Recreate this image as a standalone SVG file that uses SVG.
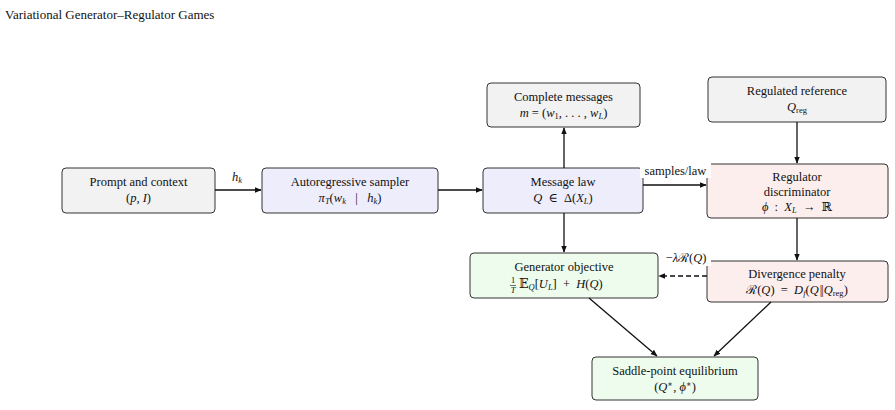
<svg xmlns="http://www.w3.org/2000/svg" width="895" height="410" viewBox="0 0 895 410">
<style>
.box{stroke:#333;stroke-width:1;rx:4;ry:4}
.gray{fill:#f2f2f2}.blue{fill:#ededfc}.pink{fill:#fdeeee}.green{fill:#edfced}
text{font-family:"Liberation Serif","DejaVu Serif",serif;font-size:12.5px;fill:#111;text-anchor:middle}
.m{font-style:italic}
.sub{font-size:8.5px}
.st{text-anchor:start}
.ln{stroke:#111;stroke-width:1.3;fill:none}
.title{text-anchor:start;font-size:13px}
</style>
<defs>
<marker id="ah" viewBox="0 0 10 10" refX="9" refY="5" markerWidth="7" markerHeight="7" markerUnits="userSpaceOnUse" orient="auto">
<path d="M0,1 L10,5 L0,9 z" fill="#111"/>
</marker>
</defs>
<rect width="895" height="410" fill="#fff"/>
<text class="title" x="5" y="19">Variational Generator–Regulator Games</text>

<g id="prompt"><rect class="box gray" x="62" y="168" width="153" height="45"/>
<text x="138.5" y="186">Prompt and context</text>
<text x="138.5" y="202">(<tspan class="m">p</tspan>, <tspan class="m">I</tspan>)</text></g>

<g id="sampler"><rect class="box blue" x="262" y="168" width="176" height="45"/>
<text x="350" y="186">Autoregressive sampler</text>
<text x="350" y="202"><tspan class="m">π</tspan><tspan class="sub m" dy="2">T</tspan><tspan dy="-2">(</tspan><tspan class="m">w</tspan><tspan class="sub m" dy="2">k</tspan><tspan dy="-2" xml:space="preserve">   |   </tspan><tspan class="m">h</tspan><tspan class="sub m" dy="2">k</tspan><tspan dy="-2">)</tspan></text></g>

<g id="msglaw"><rect class="box blue" x="483" y="168" width="160" height="45"/>
<text x="563" y="186">Message law</text>
<text x="563" y="202" xml:space="preserve"><tspan class="m">Q</tspan>  ∈  Δ(<tspan class="m">X</tspan><tspan class="sub m" dy="2">L</tspan><tspan dy="-2">)</tspan></text></g>

<g id="complete"><rect class="box gray" x="487" y="83" width="153" height="44"/>
<text x="563.5" y="101">Complete messages</text>
<text x="563.5" y="117"><tspan class="m">m</tspan> = (<tspan class="m">w</tspan><tspan class="sub" dy="2">1</tspan><tspan dy="-2">, . . . , </tspan><tspan class="m">w</tspan><tspan class="sub m" dy="2">L</tspan><tspan dy="-2">)</tspan></text></g>

<g id="reference"><rect class="box gray" x="708" y="77" width="178" height="45"/>
<text x="797" y="95">Regulated reference</text>
<text x="797" y="111"><tspan class="m">Q</tspan><tspan class="sub" dy="2">reg</tspan></text></g>

<g id="regulator"><rect class="box pink" x="707" y="164" width="181" height="54"/>
<text x="797" y="181">Regulator</text>
<text x="797" y="196">discriminator</text>
<text x="797" y="211" xml:space="preserve"><tspan class="m">ϕ</tspan>  :  <tspan class="m">X</tspan><tspan class="sub m" dy="2">L</tspan><tspan dy="-2">  →  ℝ</tspan></text></g>

<g id="generator"><rect class="box green" x="470" y="253" width="188" height="45"/>
<text x="564" y="271">Generator objective</text>
<text x="513" y="283" class="sub">1</text>
<text x="513" y="293" class="sub m">T</text>
<line x1="510" y1="285.5" x2="516" y2="285.5" stroke="#111" stroke-width="0.6"/>
<text x="519" y="288" class="st" xml:space="preserve">𝔼<tspan class="sub m" dy="2">Q</tspan><tspan dy="-2">[</tspan><tspan class="m">U</tspan><tspan class="sub m" dy="2">L</tspan><tspan dy="-2">]  +  </tspan><tspan class="m">H</tspan>(<tspan class="m">Q</tspan>)</text></g>

<g id="divergence"><rect class="box pink" x="707" y="261" width="181" height="41"/>
<text x="797" y="278">Divergence penalty</text>
<text x="797" y="294" xml:space="preserve">ℛ(<tspan class="m">Q</tspan>)  =  <tspan class="m">D</tspan><tspan class="sub m" dy="2">f</tspan><tspan dy="-2">(</tspan><tspan class="m">Q</tspan><tspan dx="1" letter-spacing="-1">||</tspan><tspan dx="1" class="m">Q</tspan><tspan class="sub" dy="2">reg</tspan><tspan dy="-2">)</tspan></text></g>

<g id="saddle"><rect class="box green" x="592" y="357" width="166" height="43"/>
<text x="675" y="375">Saddle-point equilibrium</text>
<text x="675" y="391">(<tspan class="m">Q</tspan><tspan class="sub" dy="-4">∗</tspan><tspan dy="4">, </tspan><tspan class="m">ϕ</tspan><tspan class="sub" dy="-4">∗</tspan><tspan dy="4">)</tspan></text></g>

<g id="connectors">
<line class="ln" x1="215" y1="190" x2="261" y2="190" marker-end="url(#ah)"/>
<text x="237" y="181" class="m">h<tspan class="sub" dy="2">k</tspan></text>
<line class="ln" x1="438" y1="190" x2="482" y2="190" marker-end="url(#ah)"/>
<line class="ln" x1="564" y1="168" x2="564" y2="128" marker-end="url(#ah)"/>
<line class="ln" x1="564" y1="213" x2="564" y2="252" marker-end="url(#ah)"/>
<line class="ln" x1="643" y1="185" x2="706" y2="185" marker-end="url(#ah)"/>
<rect x="640" y="163" width="71" height="15" fill="#fff"/>
<text x="675.5" y="175">samples/law</text>
<line class="ln" x1="797" y1="122" x2="797" y2="163" marker-end="url(#ah)"/>
<line class="ln" x1="797" y1="218" x2="797" y2="260" marker-end="url(#ah)"/>
<line class="ln" x1="707" y1="276" x2="659" y2="276" stroke-dasharray="5,3" marker-end="url(#ah)"/>
<rect x="661" y="250" width="50" height="16" fill="#fff"/>
<text x="686" y="262">−<tspan class="m">λ</tspan>ℛ(<tspan class="m">Q</tspan>)</text>
<line class="ln" x1="589" y1="298" x2="657" y2="356" marker-end="url(#ah)"/>
<line class="ln" x1="771" y1="302" x2="714" y2="356" marker-end="url(#ah)"/>
</g>
</svg>
